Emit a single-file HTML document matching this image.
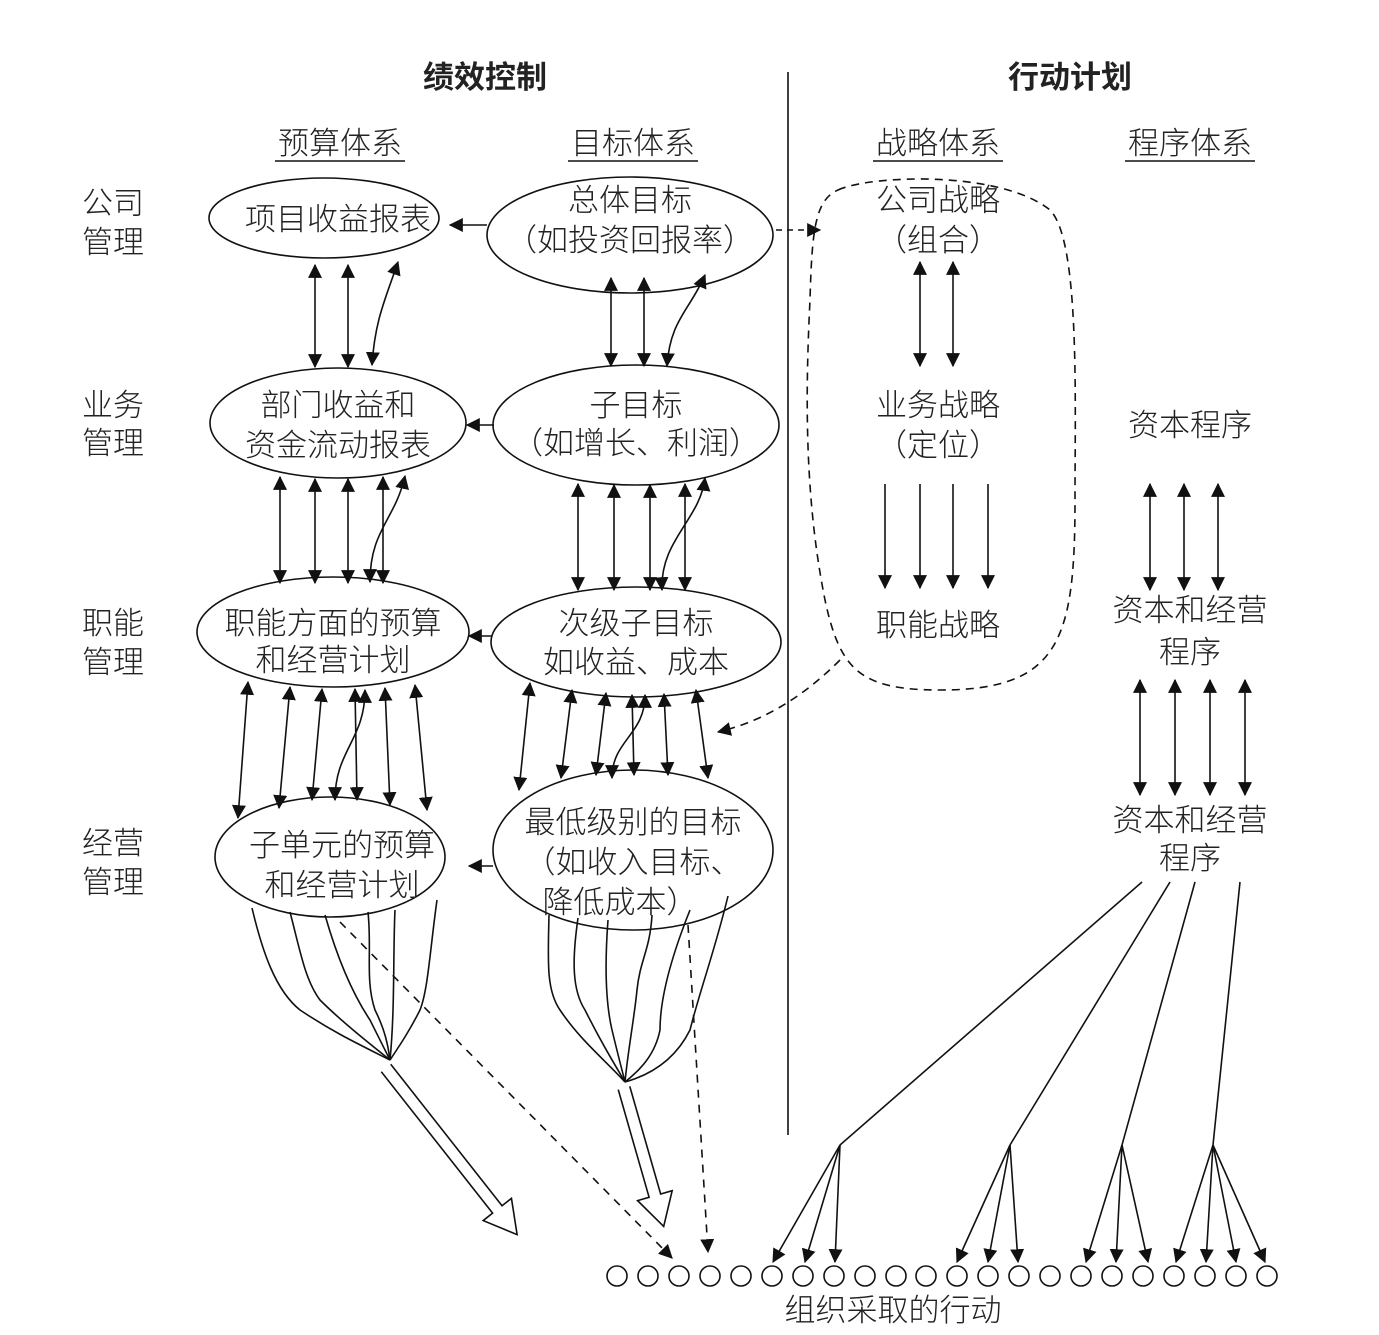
<!DOCTYPE html>
<html><head><meta charset="utf-8"><style>
html,body{margin:0;padding:0;background:#fff;}
svg{display:block;}
text{font-family:"Liberation Sans","Noto Sans CJK SC",sans-serif;fill:#222;font-weight:300;}
text.b{font-weight:bold;}
</style></head><body>
<svg width="1379" height="1335" viewBox="0 0 1379 1335" xmlns="http://www.w3.org/2000/svg">
<style>
.l{stroke:#111;stroke-width:1.6;fill:none}
.dd{marker-start:url(#A);marker-end:url(#A)}
</style>
<defs>
<marker id="A" viewBox="0 0 12 12" refX="11" refY="6" markerWidth="14" markerHeight="14" orient="auto-start-reverse" markerUnits="userSpaceOnUse"><path d="M0,0L12,6L0,12z" fill="#111"/></marker>
</defs>

<!-- headers -->
<text class="b" x="485" y="88" font-size="31" text-anchor="middle">绩效控制</text>
<text class="b" x="1070" y="88" font-size="31" text-anchor="middle">行动计划</text>
<line x1="788" y1="72" x2="788" y2="1135" class="l"/>
<g font-size="31" text-anchor="middle">
<text x="340" y="154">预算体系</text>
<text x="633" y="154">目标体系</text>
<text x="938" y="154">战略体系</text>
<text x="1190" y="154">程序体系</text>
</g>
<g class="l">
<line x1="275" y1="161" x2="405" y2="161"/>
<line x1="568" y1="161" x2="698" y2="161"/>
<line x1="873" y1="161" x2="1003" y2="161"/>
<line x1="1125" y1="161" x2="1255" y2="161"/>
</g>
<g font-size="31" text-anchor="middle">
<text x="113" y="214">公司</text><text x="113" y="253">管理</text>
<text x="113" y="416">业务</text><text x="113" y="454">管理</text>
<text x="113" y="634">职能</text><text x="113" y="673">管理</text>
<text x="113" y="854">经营</text><text x="113" y="893">管理</text>
</g>

<!-- ellipses -->
<g class="l">
<ellipse cx="324" cy="218" rx="115" ry="40"/>
<ellipse cx="630" cy="235" rx="143" ry="58"/>
<ellipse cx="338" cy="423" rx="128" ry="55"/>
<ellipse cx="636" cy="425" rx="143" ry="60"/>
<ellipse cx="333" cy="632" rx="136" ry="55"/>
<ellipse cx="636" cy="642" rx="145" ry="55"/>
<ellipse cx="330" cy="857" rx="115" ry="60"/>
<ellipse cx="633" cy="850" rx="140" ry="80"/>
</g>
<g font-size="31" text-anchor="middle">
<text x="338" y="230">项目收益报表</text>
<text x="630" y="211">总体目标</text>
<text x="630" y="251">（如投资回报率）</text>
<text x="338" y="416">部门收益和</text>
<text x="338" y="456">资金流动报表</text>
<text x="636" y="416">子目标</text>
<text x="636" y="454">（如增长、利润）</text>
<text x="333" y="634">职能方面的预算</text>
<text x="333" y="671">和经营计划</text>
<text x="636" y="634">次级子目标</text>
<text x="636" y="673">如收益、成本</text>
<text x="342" y="856">子单元的预算</text>
<text x="342" y="896">和经营计划</text>
<text x="633" y="833">最低级别的目标</text>
<text x="633" y="873">（如收入目标、</text>
<text x="620" y="913">降低成本）</text>
</g>

<!-- horizontal arrows -->
<g class="l" marker-end="url(#A)">
<line x1="487" y1="225" x2="450" y2="225"/>
<line x1="494" y1="425" x2="467" y2="425"/>
<line x1="492" y1="636" x2="469" y2="636"/>
<line x1="493" y1="866" x2="469" y2="866"/>
</g>
<line x1="776" y1="230" x2="820" y2="230" class="l" stroke-dasharray="6,5" marker-end="url(#A)"/>
<path d="M840,660 C800,700 760,722 718,732" class="l" stroke-dasharray="8,6" marker-end="url(#A)"/>
<path d="M838,190 C870,175 1000,170 1050,210 C1080,240 1075,400 1075,500 C1075,640 1060,690 940,690 C860,690 840,670 825,600 C805,500 805,400 810,300 C812,230 815,200 838,190 Z" class="l" stroke-dasharray="8,6"/>

<!-- double arrows left -->
<g class="l dd">
<line x1="315" y1="265" x2="315" y2="367"/>
<line x1="348" y1="265" x2="348" y2="367"/>
<line x1="611" y1="278" x2="611" y2="366"/>
<line x1="644" y1="278" x2="644" y2="366"/>
<line x1="280" y1="477" x2="280" y2="583"/>
<line x1="315" y1="479" x2="315" y2="583"/>
<line x1="348" y1="479" x2="348" y2="583"/>
<line x1="383" y1="477" x2="383" y2="583"/>
<line x1="578" y1="484" x2="578" y2="590"/>
<line x1="614" y1="485" x2="614" y2="590"/>
<line x1="650" y1="485" x2="650" y2="590"/>
<line x1="685" y1="484" x2="685" y2="590"/>
<line x1="248" y1="682" x2="238" y2="818"/>
<line x1="290" y1="687" x2="279" y2="808"/>
<line x1="322" y1="689" x2="312" y2="800"/>
<line x1="355" y1="689" x2="357" y2="800"/>
<line x1="385" y1="688" x2="390" y2="805"/>
<line x1="415" y1="685" x2="427" y2="810"/>
<line x1="530" y1="683" x2="519" y2="790"/>
<line x1="572" y1="690" x2="561" y2="778"/>
<line x1="606" y1="693" x2="596" y2="775"/>
<line x1="632" y1="695" x2="634" y2="775"/>
<line x1="664" y1="694" x2="668" y2="775"/>
<line x1="696" y1="690" x2="708" y2="778"/>
</g>
<!-- curved arrows -->
<g class="l">
<path d="M372,365 C375,320 385,300 398,262" marker-start="url(#A)" marker-end="url(#A)"/>
<path d="M667,366 C670,320 690,310 705,275" marker-start="url(#A)" marker-end="url(#A)"/>
<path d="M370,582 C370,530 395,520 405,476" marker-start="url(#A)" marker-end="url(#A)"/>
<path d="M662,590 C660,540 700,520 705,478" marker-start="url(#A)" marker-end="url(#A)"/>
<path d="M335,800 C335,750 365,740 365,690" marker-start="url(#A)" marker-end="url(#A)"/>
<path d="M612,778 C612,740 645,735 645,695" marker-start="url(#A)" marker-end="url(#A)"/>
</g>

<!-- strategy -->
<g font-size="31" text-anchor="middle">
<text x="938" y="211">公司战略</text>
<text x="938" y="251">（组合）</text>
<text x="938" y="416">业务战略</text>
<text x="938" y="456">（定位）</text>
<text x="938" y="636">职能战略</text>
<text x="1190" y="436">资本程序</text>
<text x="1190" y="621">资本和经营</text>
<text x="1190" y="663">程序</text>
<text x="1190" y="831">资本和经营</text>
<text x="1190" y="869">程序</text>
<text x="893" y="1321">组织采取的行动</text>
</g>
<g class="l dd">
<line x1="920" y1="262" x2="920" y2="366"/>
<line x1="953" y1="262" x2="953" y2="366"/>
<line x1="1150" y1="484" x2="1150" y2="590"/>
<line x1="1184" y1="484" x2="1184" y2="590"/>
<line x1="1218" y1="484" x2="1218" y2="590"/>
<line x1="1140" y1="680" x2="1140" y2="795"/>
<line x1="1175" y1="680" x2="1175" y2="795"/>
<line x1="1210" y1="680" x2="1210" y2="795"/>
<line x1="1245" y1="680" x2="1245" y2="795"/>
</g>
<g class="l" marker-end="url(#A)">
<line x1="885" y1="484" x2="885" y2="588"/>
<line x1="920" y1="484" x2="920" y2="588"/>
<line x1="953" y1="484" x2="953" y2="588"/>
<line x1="988" y1="484" x2="988" y2="588"/>
</g>

<!-- program to actions -->
<g class="l">
<line x1="1142" y1="882" x2="840" y2="1145"/>
<line x1="1170" y1="882" x2="1010" y2="1145"/>
<line x1="1195" y1="882" x2="1122" y2="1145"/>
<line x1="1240" y1="882" x2="1213" y2="1145"/>
</g>
<g class="l" marker-end="url(#A)">
<line x1="840" y1="1145" x2="773" y2="1262"/>
<line x1="840" y1="1145" x2="805" y2="1262"/>
<line x1="840" y1="1145" x2="835" y2="1262"/>
<line x1="1010" y1="1145" x2="957" y2="1262"/>
<line x1="1010" y1="1145" x2="988" y2="1262"/>
<line x1="1010" y1="1145" x2="1018" y2="1262"/>
<line x1="1122" y1="1145" x2="1086" y2="1262"/>
<line x1="1122" y1="1145" x2="1116" y2="1262"/>
<line x1="1122" y1="1145" x2="1148" y2="1262"/>
<line x1="1213" y1="1145" x2="1176" y2="1262"/>
<line x1="1213" y1="1145" x2="1206" y2="1262"/>
<line x1="1213" y1="1145" x2="1236" y2="1262"/>
<line x1="1213" y1="1145" x2="1265" y2="1262"/>
</g>
<g class="l" stroke-width="1.4">
<circle cx="617" cy="1276" r="10"/><circle cx="648" cy="1276" r="10"/><circle cx="679" cy="1276" r="10"/><circle cx="710" cy="1276" r="10"/><circle cx="741" cy="1276" r="10"/><circle cx="772" cy="1276" r="10"/><circle cx="803" cy="1276" r="10"/><circle cx="834" cy="1276" r="10"/><circle cx="865" cy="1276" r="10"/><circle cx="896" cy="1276" r="10"/><circle cx="926" cy="1276" r="10"/><circle cx="957" cy="1276" r="10"/><circle cx="988" cy="1276" r="10"/><circle cx="1019" cy="1276" r="10"/><circle cx="1050" cy="1276" r="10"/><circle cx="1081" cy="1276" r="10"/><circle cx="1112" cy="1276" r="10"/><circle cx="1143" cy="1276" r="10"/><circle cx="1174" cy="1276" r="10"/><circle cx="1205" cy="1276" r="10"/><circle cx="1236" cy="1276" r="10"/><circle cx="1267" cy="1276" r="10"/>
</g>

<!-- fans -->
<g class="l" stroke-width="1.4">
<path d="M252,908 C262,950 275,990 300,1010 C330,1030 350,1040 390,1060"/>
<path d="M290,912 C300,950 305,980 320,1000 C340,1020 365,1040 390,1060"/>
<path d="M325,915 C335,950 350,990 370,1020 C380,1040 385,1050 390,1060"/>
<path d="M368,912 C372,950 365,980 375,1010 C385,1030 388,1045 390,1060"/>
<path d="M395,910 C393,950 395,1010 390,1060"/>
<path d="M437,900 C430,950 428,990 420,1010 C410,1030 400,1045 390,1060"/>
<path d="M549,915 C548,960 546,990 560,1010 C580,1040 605,1060 625,1082"/>
<path d="M578,918 C572,960 572,990 585,1010 C600,1040 612,1060 625,1082"/>
<path d="M608,920 C605,960 605,1000 612,1030 C618,1055 622,1070 625,1082"/>
<path d="M652,915 C650,950 640,960 637,990 C634,1020 628,1050 625,1082"/>
<path d="M690,910 C670,960 660,1000 660,1030 C655,1055 640,1070 625,1082"/>
<path d="M728,896 C715,950 700,990 690,1030 C675,1060 650,1075 625,1082"/>
</g>
<line x1="340" y1="922" x2="672" y2="1258" class="l" stroke-dasharray="8,7" marker-end="url(#A)"/>
<line x1="688" y1="925" x2="708" y2="1252" class="l" stroke-dasharray="8,7" marker-end="url(#A)"/>

<!-- hollow arrows -->
<g transform="translate(386,1068) rotate(51.8)">
<path d="M0,-6 L180,-6 L180,-18 L212,0 L180,18 L180,6 L0,6" fill="#fff" stroke="#111" stroke-width="1.6"/>
</g>
<g transform="translate(624,1088) rotate(74)">
<path d="M0,-6 L112,-6 L112,-18 L144,0 L112,18 L112,6 L0,6" fill="#fff" stroke="#111" stroke-width="1.6"/>
</g>
</svg>
</body></html>
